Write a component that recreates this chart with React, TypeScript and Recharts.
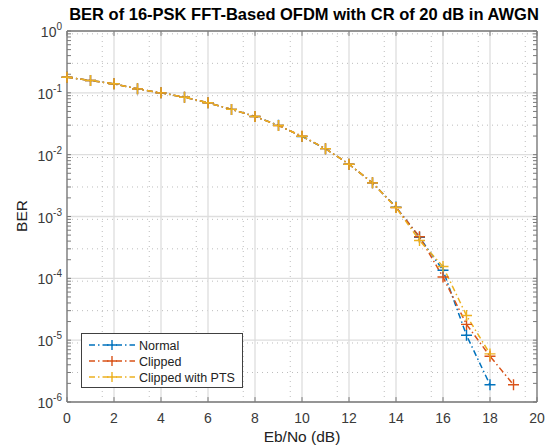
import React from 'react';
import { LineChart, Line, XAxis, YAxis, CartesianGrid, ReferenceLine } from 'recharts';

const ebNoDb = [0, 1, 2, 3, 4, 5, 6, 7, 8, 9, 10, 11, 12, 13, 14, 15, 16, 17, 18, 19];
const berNormal = [0.179, 0.158, 0.14, 0.116, 0.1, 0.085, 0.069, 0.054, 0.0415, 0.0298, 0.0197, 0.0125, 0.007, 0.0035, 0.00142, 0.00046, 0.000135, 0.000012, 0.0000019];
const berClipped = [0.179, 0.158, 0.14, 0.116, 0.1, 0.085, 0.069, 0.054, 0.0415, 0.0296, 0.0199, 0.0125, 0.007, 0.0035, 0.0014, 0.00047, 0.000105, 0.000018, 0.0000055, 0.0000019];
const berClippedPts = [0.179, 0.158, 0.14, 0.116, 0.1, 0.085, 0.069, 0.054, 0.0415, 0.0296, 0.0199, 0.0125, 0.007, 0.0035, 0.0014, 0.00041, 0.000155, 0.000025, 0.000006];

const seriesKeys = ['normal', 'clipped', 'pts'];
const seriesNames = ['Normal', 'Clipped', 'Clipped with PTS'];
const seriesColors = ['#0072BD', '#D95319', '#EDB120'];

const xTicks = [0, 2, 4, 6, 8, 10, 12, 14, 16, 18, 20];
const yTicks = [1e-6, 1e-5, 1e-4, 1e-3, 1e-2, 1e-1, 1];
const titleText = 'BER of 16-PSK FFT-Based OFDM with CR of 20 dB in AWGN';
const xLabelText = 'Eb/No (dB)';
const yLabelText = 'BER';

const xMinor: number[] = [];
for (let v = 0.5; v < 20; v += 0.5) if (v % 2 !== 0) xMinor.push(v);
const yMinor: number[] = [];
for (let e = -6; e < 0; e++) for (let k = 2; k <= 9; k++) yMinor.push(k * Math.pow(10, e));

const data = ebNoDb.map((x, i) => ({
  x,
  normal: berNormal[i],
  clipped: berClipped[i],
  pts: berClippedPts[i],
}));

const FONT = '"Liberation Sans", Arial, Helvetica, sans-serif';
const AXIS = '#7a7a7a';
const TXT = '#3a3a3a';

const YTick = (props: any) => {
  const { x, y, payload } = props;
  const e = Math.round(Math.log10(payload.value));
  return (
    <text x={x} y={y + 6} textAnchor="end" fontFamily={FONT} fontSize={14} fill={TXT}>
      <tspan>10</tspan>
      <tspan dy={-7} fontSize={10}>{String(e)}</tspan>
    </text>
  );
};

const plusDot = (color: string) => (props: any) => {
  const { cx, cy, index } = props;
  if (cx == null || cy == null || isNaN(cy)) return <g key={`d${index}`} />;
  return (
    <path
      key={`d${index}`}
      d={`M${cx - 5.5},${cy}H${cx + 5.5}M${cx},${cy - 5.5}V${cy + 5.5}`}
      stroke={color}
      strokeWidth={1.4}
      fill="none"
    />
  );
};

export default function App() {
  const tickLen = 0.17;
  const yTickFactor = 1.2;
  return (
    <div style={{ position: 'absolute', left: 0, top: 0, width: 552, height: 447, background: '#fff' }}>
      <LineChart
        width={552}
        height={447}
        data={data}
        margin={{ top: 31, right: 15, bottom: 0, left: 0 }}
      >
        <CartesianGrid
          horizontalValues={yMinor}
          verticalValues={xMinor}
          stroke="#bdbdbd"
          strokeDasharray="1 4"
          strokeWidth={1}
        />
        <CartesianGrid
          horizontalValues={yTicks}
          verticalValues={xTicks}
          stroke="#dedede"
          strokeWidth={1.3}
        />
        <XAxis
          dataKey="x"
          type="number"
          domain={[0, 20]}
          ticks={xTicks}
          height={45}
          tickLine={false}
          tickSize={0}
          tickMargin={11}
          axisLine={{ stroke: AXIS, strokeWidth: 1.3 }}
          tick={{ fontFamily: FONT, fontSize: 14, fill: TXT }}
          label={(p: any) => (
            <text x={302} y={442} textAnchor="middle" fontFamily={FONT} fontSize={15.5} fill="#222">
              {xLabelText}
            </text>
          )}
        />
        <YAxis
          type="number"
          scale="log"
          domain={[1e-6, 1]}
          ticks={yTicks}
          width={67}
          tickLine={false}
          tickSize={0}
          tickMargin={5}
          axisLine={{ stroke: AXIS, strokeWidth: 1.3 }}
          tick={<YTick />}
          label={(p: any) => (
            <text
              x={27}
              y={216}
              transform="rotate(-90, 27, 216)"
              textAnchor="middle"
              fontFamily={FONT}
              fontSize={15.5}
              fill="#222"
            >
              {yLabelText}
            </text>
          )}
        />
        <ReferenceLine y={1} stroke={AXIS} strokeWidth={1.3} />
        <ReferenceLine x={20} stroke={AXIS} strokeWidth={1.3} />
        {xTicks.map((v) => (
          <ReferenceLine
            key={`xb${v}`}
            segment={[{ x: v, y: 1e-6 }, { x: v, y: 1e-6 * yTickFactor }]}
            stroke={AXIS}
            strokeWidth={1}
          />
        ))}
        {xTicks.map((v) => (
          <ReferenceLine
            key={`xt${v}`}
            segment={[{ x: v, y: 1 }, { x: v, y: 1 / yTickFactor }]}
            stroke={AXIS}
            strokeWidth={1}
          />
        ))}
        {[...yTicks, ...yMinor].map((v) => (
          <ReferenceLine
            key={`yl${v}`}
            segment={[{ x: 0, y: v }, { x: tickLen, y: v }]}
            stroke={AXIS}
            strokeWidth={1}
          />
        ))}
        {[...yTicks, ...yMinor].map((v) => (
          <ReferenceLine
            key={`yr${v}`}
            segment={[{ x: 20, y: v }, { x: 20 - tickLen, y: v }]}
            stroke={AXIS}
            strokeWidth={1}
          />
        ))}
        {seriesKeys.map((k, i) => (
          <Line
            key={k}
            dataKey={k}
            name={seriesNames[i]}
            type="linear"
            stroke={seriesColors[i]}
            strokeWidth={1.5}
            strokeDasharray="6 3 1.5 3"
            dot={plusDot(seriesColors[i])}
            activeDot={false}
            legendType="none"
            isAnimationActive={false}
          />
        ))}
      </LineChart>
      <svg
        width={552}
        height={30}
        style={{ position: 'absolute', left: 0, top: 0, pointerEvents: 'none' }}
      >
        <text x={304} y={20} textAnchor="middle" fontFamily={FONT} fontSize={16.5} fontWeight="bold" fill="#000">
          {titleText}
        </text>
      </svg>
      <svg
        width={163}
        height={56}
        style={{ position: 'absolute', left: 81, top: 333, pointerEvents: 'none' }}
      >
        <rect x={0.5} y={0.5} width={161} height={54} fill="#fff" stroke="#404040" strokeWidth={1} />
        {seriesNames.map((n, i) => {
          const cy = 12 + i * 16;
          const c = seriesColors[i];
          return (
            <g key={n}>
              <line x1={8} y1={cy} x2={54} y2={cy} stroke={c} strokeWidth={1.5} strokeDasharray="6 3 1.5 3" />
              <path d={`M${26},${cy}H${36}M${31},${cy - 5}V${cy + 5}`} stroke={c} strokeWidth={1.4} />
              <text x={58} y={cy + 4.5} fontFamily={FONT} fontSize={12.5} fill="#222">
                {n}
              </text>
            </g>
          );
        })}
      </svg>
    </div>
  );
}
